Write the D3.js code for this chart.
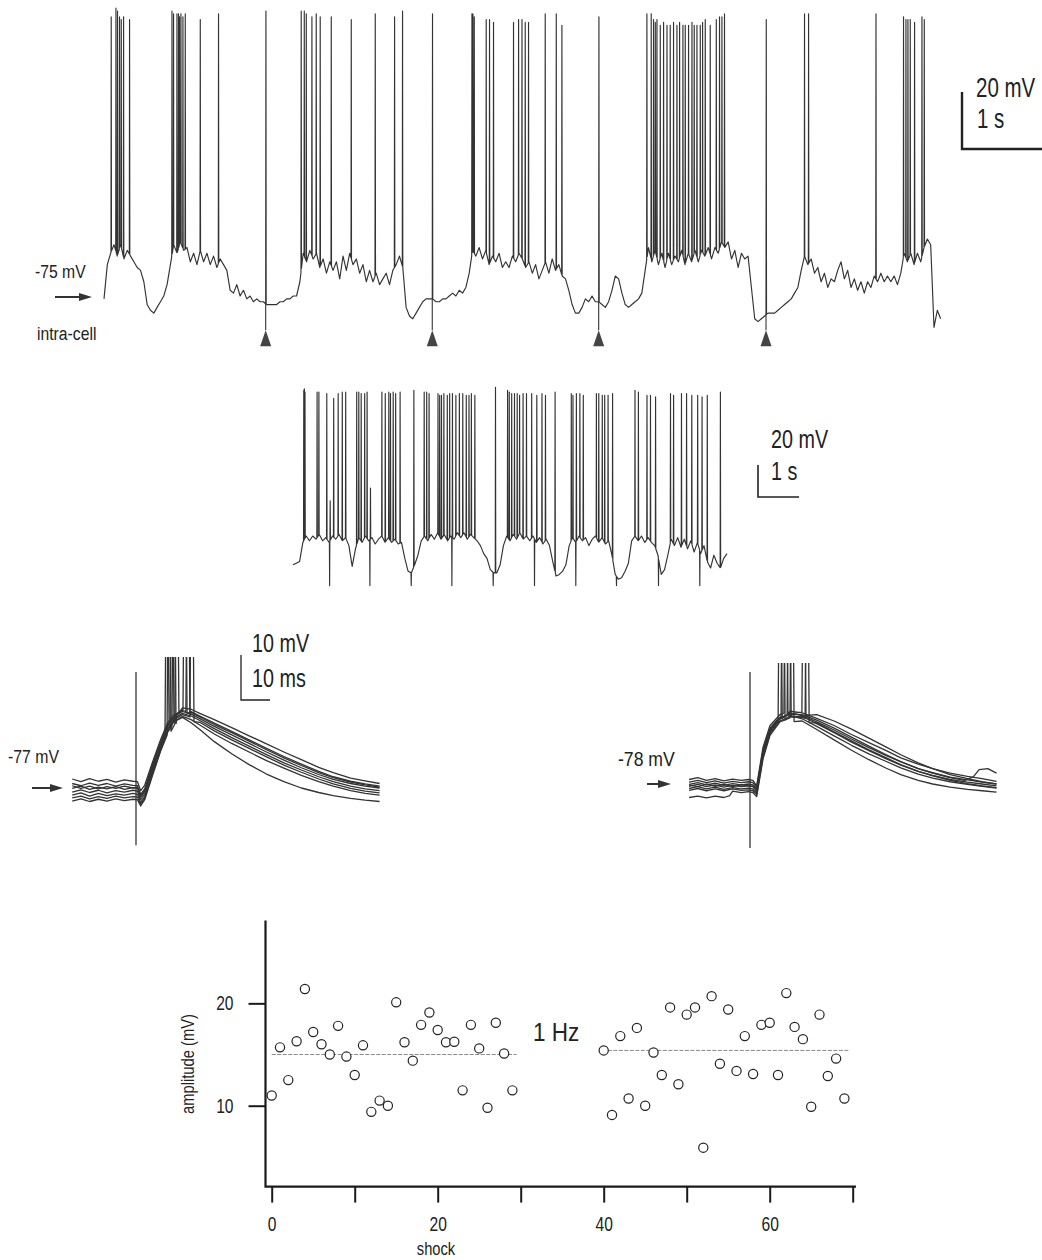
<!DOCTYPE html>
<html><head><meta charset="utf-8">
<script src="https://cdn.jsdelivr.net/npm/d3@7"></script>
<style>
body{margin:0;background:#fff}
svg{display:block}
text{font-family:"Liberation Sans",Arial,sans-serif;fill:#222}
</style>
</head><body>
<svg id="fig" width="1042" height="1260"></svg>
<script>
// ---------------- DATA ----------------
// Top trace (intracellular, 0.5 Hz stimulation): membrane potential sampled every 40 ms (mV)
const topDt = 0.04;
const topVm = [
-76,-64,-60,-57,-61,-57,-62,-59,-61,-63,
-65,-66,-70,-78,-80,-81,-79,-77,-75,-71,
-64,-57,-60,-56,-59,-58,-63,-60,-64,-59,
-63,-60,-64,-61,-65,-62,-64,-66,-73,-74,
-71,-75,-73,-76,-75,-77,-76,-77,-77,-78,
-78,-78,-78,-77,-77,-76,-76,-75,-75,-70,
-60,-63,-59,-62,-60,-65,-62,-67,-63,-66,
-63,-69,-61,-66,-60,-64,-62,-67,-64,-70,
-66,-70,-67,-71,-69,-67,-71,-66,-64,-61,
-65,-79,-82,-83,-81,-79,-77,-76,-76,-76,
-77,-77,-76,-76,-75,-74,-75,-73,-74,-72,
-67,-59,-61,-58,-62,-59,-64,-61,-63,-60,
-65,-63,-65,-61,-63,-60,-62,-65,-63,-67,
-64,-69,-66,-63,-67,-62,-66,-64,-68,-69,
-73,-78,-81,-81,-79,-76,-77,-75,-77,-77,
-78,-79,-77,-73,-68,-69,-74,-78,-79,-78,
-77,-76,-74,-66,-58,-63,-59,-64,-60,-65,
-60,-64,-61,-63,-59,-64,-60,-63,-59,-63,
-59,-61,-58,-62,-58,-60,-56,-58,-56,-62,
-59,-65,-60,-62,-61,-72,-83,-84,-83,-82,
-81,-81,-81,-80,-79,-78,-77,-76,-74,-72,
-66,-61,-64,-62,-67,-65,-70,-67,-72,-69,
-70,-66,-63,-69,-66,-72,-69,-73,-70,-74,
-70,-72,-68,-70,-67,-70,-68,-70,-68,-71,
-67,-60,-63,-60,-64,-60,-63,-58,-55,-57,
-86,-80,-83];
const topSpikeTimes = [
0.084,0.141,0.160,0.184,0.205,0.233,0.305,
0.816,0.835,0.876,0.895,0.907,0.924,0.948,0.976,1.157,1.377,
2.373,2.410,2.434,2.502,2.554,2.602,2.735,2.976,3.265,3.498,3.594,
4.430,4.442,4.458,4.602,4.642,4.690,4.931,4.992,5.033,5.072,5.112,5.313,5.446,5.514,
6.538,6.590,6.618,6.639,6.659,6.699,6.739,6.780,6.819,6.859,6.900,6.932,6.972,7.000,
7.040,7.081,7.108,7.141,7.181,7.209,7.241,7.301,7.374,7.413,7.442,7.473,
8.437,8.486,9.298,
9.630,9.659,9.683,9.711,9.763,9.852,9.880];
const topSpikePeaks = [
23,26,25,23,22,23,22,
25,24,24,24,23,24,23,24,22,24,
25,25,24,23,24,23,23,22,24,23,25,
24,24,23,22,22,21,21,22,22,21,21,24,24,20,
24,24,22,21,22,20,21,20,20,21,20,21,20,20,
20,21,20,20,20,21,22,20,22,23,23,24,
24,24,24,
23,22,22,22,21,23,22];
const topStimTimes = [1.948, 3.955, 5.960, 7.976];
const topStimPeaks = [25, 24, 23, 22];

// Middle trace (1 Hz stimulation): sampled every 80 ms (mV)
const midDt = 0.08;
const midVm = [
-78,-77,-76,-64,-60,-63,-60,-62,-59,-63,
-61,-64,-60,-62,-59,-63,-61,-66,-79,-68,
-61,-64,-60,-63,-61,-65,-62,-60,-64,-61,
-64,-62,-65,-64,-74,-82,-83,-78,-72,-63,
-60,-63,-59,-62,-58,-62,-59,-63,-60,-62,
-58,-61,-58,-62,-59,-61,-63,-66,-71,-74,
-81,-83,-83,-78,-66,-60,-63,-59,-62,-58,
-62,-60,-63,-60,-64,-61,-65,-62,-66,-76,
-85,-84,-82,-78,-66,-61,-64,-60,-63,-61,
-66,-62,-60,-64,-61,-65,-63,-72,-84,-87,
-86,-82,-77,-63,-60,-63,-60,-64,-61,-64,
-66,-72,-84,-81,-72,-62,-66,-61,-67,-62,
-68,-63,-70,-64,-71,-66,-76,-80,-72,-77,
-80,-74,-71];
const midSpikeTimes = [
0.255,0.270,0.285,0.579,0.623,0.815,0.898,0.983,1.092,1.192,1.275,
1.543,1.594,1.652,1.737,1.796,1.878,2.156,2.238,2.324,2.365,2.431,2.491,2.599,
2.934,3.185,3.246,3.304,3.521,3.562,3.606,3.664,3.747,3.805,3.873,3.956,4.041,
4.124,4.209,4.275,4.333,4.418,4.920,5.214,5.255,5.314,5.382,5.448,5.506,5.591,
5.674,5.800,5.925,6.051,6.136,6.370,6.764,6.805,6.888,6.973,7.056,7.375,7.433,
7.518,7.577,7.659,7.769,8.314,8.397,8.606,8.691,8.815,9.178,9.253,9.445,9.569,
9.696,9.839,9.946,10.073,10.392];
const midSpikePeaks = [
31,32,30,30,30,29,-38,26,29,30,30,
30,30,29,29,30,-30,30,29,30,29,30,29,30,
31,30,30,29,29,28,28,29,28,29,29,28,29,
29,28,28,29,28,33,31,30,29,29,29,28,29,
29,29,28,29,28,30,29,28,29,29,28,29,29,
28,28,28,29,31,30,28,28,27,29,28,29,29,
28,28,27,28,30];
const midStimTimes = [0.898,1.878,2.883,3.873,4.878,5.883,6.888,7.878,8.900,9.905];
const midStimLevel = -91;

// Superimposed EPSPs, left (-77 mV): [ms, mV] per sweep
const leftSweeps = [
[[-22,-75.0],[-19,-75.6],[-16,-74.9],[-13,-75.5],[-10,-75.1],[-7,-75.7],[-4,-75.2],[-1,-75.5],[0.5,-75.6],[1.6,-77.6],[3,-76.4],[5.5,-71.6],[8.5,-66.2],[11,-62.4],[14,-60.0],[16,-59.2],[19,-59.5],[22,-60.4],[27,-61.8],[33,-63.6],[39,-65.4],[45,-67.2],[51,-69.0],[57,-70.7],[63,-72.4],[68,-73.6],[74,-74.8],[79,-75.4],[84,-76.0]],
[[-22,-76.0],[-19,-76.5],[-16,-75.9],[-13,-76.4],[-10,-76.0],[-7,-76.6],[-4,-76.1],[-1,-76.4],[0.5,-76.5],[1.6,-78.4],[3,-77.2],[5.5,-72.2],[8.5,-66.8],[11,-63.0],[14,-60.5],[16,-59.6],[19,-60.0],[22,-61.0],[27,-62.6],[33,-64.4],[39,-66.3],[45,-68.2],[51,-70.0],[57,-71.7],[63,-73.3],[68,-74.5],[74,-75.5],[79,-76.1],[84,-76.6]],
[[-22,-77.1],[-19,-76.6],[-16,-77.3],[-13,-76.8],[-10,-77.2],[-7,-76.7],[-4,-77.3],[-1,-76.9],[0.5,-77.0],[1.6,-79.0],[3,-77.8],[5.5,-72.8],[8.5,-67.2],[11,-63.4],[14,-60.8],[16,-60.0],[19,-60.6],[22,-61.6],[27,-63.3],[33,-65.2],[39,-67.1],[45,-69.0],[51,-70.8],[57,-72.5],[63,-74.0],[68,-75.1],[74,-76.0],[79,-76.6],[84,-77.0]],
[[-22,-77.9],[-19,-77.4],[-16,-78.0],[-13,-77.5],[-10,-78.1],[-7,-77.6],[-4,-77.9],[-1,-77.5],[0.5,-77.7],[1.6,-79.6],[3,-78.3],[5.5,-73.3],[8.5,-67.7],[11,-63.8],[14,-61.2],[16,-60.4],[19,-61.0],[22,-62.0],[27,-63.8],[33,-65.8],[39,-67.7],[45,-69.6],[51,-71.4],[57,-73.0],[63,-74.5],[68,-75.6],[74,-76.6],[79,-77.2],[84,-77.6]],
[[-22,-78.6],[-19,-78.1],[-16,-78.8],[-13,-78.2],[-10,-78.7],[-7,-78.3],[-4,-78.6],[-1,-78.2],[0.5,-78.4],[1.6,-80.2],[3,-78.9],[5.5,-73.8],[8.5,-68.1],[11,-64.1],[14,-61.5],[16,-60.7],[19,-61.3],[22,-62.4],[27,-64.3],[33,-66.3],[39,-68.2],[45,-70.1],[51,-71.9],[57,-73.5],[63,-75.0],[68,-76.1],[74,-77.1],[79,-77.7],[84,-78.1]],
[[-22,-79.2],[-19,-78.8],[-16,-79.4],[-13,-78.9],[-10,-79.3],[-7,-78.8],[-4,-79.2],[-1,-78.9],[0.5,-79.0],[1.6,-80.6],[3,-79.3],[5.5,-74.2],[8.5,-68.5],[11,-64.5],[14,-61.9],[16,-61.1],[19,-61.8],[22,-63.0],[27,-65.0],[33,-67.1],[39,-69.0],[45,-70.9],[51,-72.6],[57,-74.2],[63,-75.6],[68,-76.6],[74,-77.6],[79,-78.2],[84,-78.6]],
[[-22,-79.9],[-19,-79.4],[-16,-80.0],[-13,-79.5],[-10,-79.9],[-7,-79.4],[-4,-79.8],[-1,-79.5],[0.5,-79.6],[1.6,-81.0],[3,-79.6],[5.5,-74.6],[8.5,-68.8],[11,-64.8],[14,-62.0],[16,-61.3],[19,-62.5],[22,-64.0],[27,-66.7],[33,-69.4],[39,-71.8],[45,-73.9],[51,-75.6],[57,-77.0],[63,-78.0],[68,-78.7],[74,-79.3],[79,-79.7],[84,-80.0]],
[[-22,-76.5],[-19,-77.1],[-16,-76.6],[-13,-77.2],[-10,-76.7],[-7,-77.1],[-4,-76.6],[-1,-77.0],[0.5,-76.9],[1.6,-78.8],[3,-77.5],[5.5,-72.5],[8.5,-67.0],[11,-63.1],[14,-60.5],[16,-59.8],[19,-60.2],[22,-61.2],[27,-62.9],[33,-64.7],[39,-66.6],[45,-68.5],[51,-70.3],[57,-72.0],[63,-73.6],[68,-74.7],[74,-75.7],[79,-76.3],[84,-76.8]]
];
const leftSpikeTimes = [13.4, 16.2, 10.0, 11.7, 18.6, 12.4, 10.7, 17.2];
const leftArtifact = [-51.2, -89.7];

// Superimposed EPSPs, right (-78 mV)
const rightSweeps = [
[[-21,-77.0],[-18,-76.6],[-15,-77.2],[-12,-76.8],[-9,-77.3],[-6,-76.9],[-3,-77.2],[-0.5,-77.0],[1,-77.2],[2.3,-78.4],[4.5,-69.8],[6.9,-65.0],[10.3,-62.6],[13.8,-61.8],[18,-62.2],[23,-63.4],[29,-65.0],[35,-67.0],[41,-68.8],[47,-70.6],[52,-72.2],[58,-73.6],[63,-74.6],[69,-75.6],[75,-76.3],[80,-76.8],[85,-77.4]],
[[-21,-77.6],[-18,-77.2],[-15,-77.7],[-12,-77.3],[-9,-77.8],[-6,-77.4],[-3,-77.7],[-0.5,-77.5],[1,-77.7],[2.3,-78.8],[4.5,-70.4],[6.9,-65.6],[10.3,-63.0],[13.8,-62.2],[18,-62.8],[23,-64.2],[29,-66.0],[35,-68.0],[41,-69.9],[47,-71.7],[52,-73.1],[58,-74.6],[63,-75.5],[69,-76.5],[75,-77.1],[80,-77.6],[85,-78.0]],
[[-21,-78.1],[-18,-77.7],[-15,-78.2],[-12,-77.8],[-9,-78.3],[-6,-77.9],[-3,-78.2],[-0.5,-78.0],[1,-78.2],[2.3,-79.2],[4.5,-70.8],[6.9,-66.0],[10.3,-63.3],[13.8,-62.5],[18,-63.0],[23,-64.6],[29,-66.6],[35,-68.7],[41,-70.6],[47,-72.4],[52,-73.8],[58,-75.2],[63,-76.1],[69,-77.0],[75,-77.6],[80,-78.0],[85,-78.4]],
[[-21,-78.5],[-18,-78.1],[-15,-78.6],[-12,-78.2],[-9,-78.7],[-6,-78.3],[-3,-78.6],[-0.5,-78.4],[1,-78.6],[2.3,-79.6],[4.5,-71.2],[6.9,-66.3],[10.3,-63.6],[13.8,-62.8],[18,-63.5],[23,-65.2],[29,-67.3],[35,-69.4],[41,-71.3],[47,-73.0],[52,-74.4],[58,-75.8],[63,-76.7],[69,-77.5],[75,-78.1],[80,-78.5],[85,-78.9]],
[[-21,-79.0],[-18,-78.6],[-15,-79.1],[-12,-78.7],[-9,-79.2],[-6,-78.8],[-3,-79.1],[-0.5,-78.9],[1,-79.1],[2.3,-80.0],[4.5,-71.5],[6.9,-66.4],[10.3,-63.5],[13.8,-62.4],[18,-62.0],[23,-62.6],[29,-64.0],[35,-65.8],[41,-67.8],[47,-69.8],[52,-71.5],[58,-73.3],[63,-74.6],[69,-75.9],[75,-76.8],[80,-77.5],[85,-78.0]],
[[-21,-79.4],[-18,-79.0],[-15,-79.5],[-12,-79.1],[-9,-79.5],[-6,-79.1],[-3,-79.4],[-0.5,-79.3],[1,-79.5],[2.3,-80.3],[4.5,-71.9],[6.9,-66.8],[10.3,-64.0],[13.8,-63.0],[18,-63.2],[23,-64.4],[29,-66.4],[35,-68.4],[41,-70.4],[47,-72.2],[52,-73.7],[58,-75.2],[63,-76.2],[69,-77.2],[75,-77.9],[80,-78.4],[85,-78.8]],
[[-21,-81.0],[-18,-80.7],[-15,-81.1],[-12,-80.7],[-9,-81.0],[-7,-80.6],[-6,-79.6],[-3,-79.9],[-0.5,-79.7],[1,-79.9],[2.3,-80.8],[4.5,-72.4],[6.9,-67.2],[10.3,-64.2],[13.8,-63.3],[18,-64.0],[23,-65.9],[29,-68.2],[35,-70.5],[41,-72.6],[47,-74.5],[52,-75.9],[58,-77.2],[63,-78.0],[69,-78.7],[75,-79.2],[80,-79.5],[85,-79.8]],
[[-21,-78.2],[-18,-78.6],[-15,-78.0],[-12,-78.5],[-9,-78.1],[-6,-78.6],[-3,-78.2],[-0.5,-78.4],[1,-78.5],[2.3,-79.4],[4.5,-70.6],[6.9,-65.8],[10.3,-63.2],[13.8,-62.6],[18,-62.6],[23,-63.8],[29,-65.6],[35,-67.6],[41,-69.6],[47,-71.5],[52,-73.0],[58,-74.6],[63,-75.6],[69,-76.6],[74,-77.2],[77,-76.4],[79,-74.8],[82,-74.6],[85,-75.6]]
];
const rightSpikeTimes = [11.7, 9.7, 12.8, 10.7, 17.9, 19.0, 13.8, null];
const rightArtifact = [-53.1, -92.2];

// Amplitude vs shock number (1 Hz)
const shocksA = d3.range(0, 30);
const ampA = [11.0,15.7,12.5,16.3,21.4,17.2,16.0,15.0,17.8,14.8,13.0,15.9,9.4,10.5,10.0,
              20.1,16.2,14.4,17.9,19.1,17.4,16.2,16.25,11.5,17.9,15.6,9.8,18.1,15.1,11.5];
const shocksB = d3.range(40, 70);
const ampB = [15.4,9.1,16.8,10.7,17.6,10.0,15.2,13.0,19.6,12.1,18.9,19.6,5.9,20.7,14.1,
              19.4,13.4,16.8,13.1,17.9,18.1,13.0,21.0,17.7,16.5,9.9,18.9,12.9,14.6,10.7];
const meanLines = [{from:0, to:29.5, value:15.0}, {from:40.5, to:69.5, value:15.4}];
const xTicks = [0,10,20,30,40,50,60,70];
const xTickLabels = [0,20,40,60];
const yTicks = [10,20];

// ---------------- DRAWING ----------------
const svg = d3.select("#fig");
svg.append("rect").attr("width",1042).attr("height",1260).attr("fill","#fff");
const ink = "#333";

function narrow(sel, k){
  sel.each(function(){
    const t = d3.select(this);
    const x = +t.attr("x") || 0;
    t.attr("transform", `translate(${x*(1-k)},0) scale(${k},1)`);
  });
}
function label(x, y, txt, size, k, anchor){
  const t = svg.append("text").attr("x",x).attr("y",y).attr("font-size",size)
    .attr("text-anchor",anchor||"start").text(txt);
  narrow(t,k); return t;
}
function arrow(x0, x1, y){
  svg.append("line").attr("x1",x0).attr("x2",x1-9).attr("y1",y).attr("y2",y)
    .attr("stroke","#333").attr("stroke-width",2);
  svg.append("path").attr("d",`M${x1},${y} L${x1-13},${y-4} L${x1-13},${y+4} Z`).attr("fill","#333");
}
function withEvents(base, events){
  const baseAt = d3.scaleLinear().domain(base.map(d=>d[0])).range(base.map(d=>d[1])).clamp(true);
  const pts = [], wins = [];
  events.forEach(e=>{
    const t1 = e.t + e.w;
    wins.push([e.t, t1]);
    pts.push([e.t, baseAt(e.t)], [e.t + e.w/2, e.peak], [t1, baseAt(t1) + (e.after||0)]);
  });
  base.forEach(p=>{ if(!wins.some(w=>p[0]>w[0] && p[0]<w[1])) pts.push(p); });
  pts.sort((a,b)=>a[0]-b[0]);
  return {pts, baseAt};
}

// ---- Top trace ----
const xTop = d3.scaleLinear().domain([0,10]).range([104, 934]);
const yTop = d3.scaleLinear().domain([-75,25]).range([296, 11]);
{
  const base = topVm.map((v,i)=>[i*topDt, v]);
  const ev = topSpikeTimes.map((t,i)=>({t, w:0.006, peak: topSpikePeaks[i]}))
    .concat(topStimTimes.map((t,i)=>({t, w:0.006, peak: topStimPeaks[i]})));
  const {pts, baseAt} = withEvents(base, ev);
  svg.append("path").attr("d", d3.line().x(d=>xTop(d[0])).y(d=>yTop(d[1]))(pts))
    .attr("fill","none").attr("stroke",ink).attr("stroke-width",1.15).attr("stroke-linejoin","round");
  topStimTimes.forEach(t=>{
    const x = xTop(t);
    svg.append("line").attr("x1",x).attr("x2",x).attr("y1",yTop(baseAt(t))).attr("y2",yTop(-87))
      .attr("stroke",ink).attr("stroke-width",1.1);
    svg.append("path").attr("d",`M${x},${yTop(-87)} L${x-5.5},${yTop(-87)+16} L${x+5.5},${yTop(-87)+16} Z`)
      .attr("fill","#444");
  });
  const bx = 962, by = 149;
  svg.append("path").attr("d",`M${bx},${by-(yTop(-75)-yTop(-55))} V${by} H${bx+(xTop(1)-xTop(0))}`)
    .attr("fill","none").attr("stroke","#222").attr("stroke-width",2.4);
  label(976, 97, "20 mV", 27, 0.76);
  label(977, 128, "1 s", 27, 0.76);
  label(35, 278, "-75 mV", 18.5, 0.85);
  label(37, 340, "intra-cell", 18.5, 0.85);
  arrow(55, 92, yTop(-75)+1);
}

// ---- Middle trace ----
const xMid = d3.scaleLinear().domain([0,10]).range([293, 704]);
const yMid = d3.scaleLinear().domain([-75,25]).range([560, 400]);
{
  const base = midVm.map((v,i)=>[i*midDt, v]);
  const ev = midSpikeTimes.map((t,i)=>({t: t+0.001, w:0.012, peak: midSpikePeaks[i]}))
    .concat(midStimTimes.map(t=>({t: t-0.012, w:0.010, peak: midStimLevel})));
  const {pts} = withEvents(base, ev);
  svg.append("path").attr("d", d3.line().x(d=>xMid(d[0])).y(d=>yMid(d[1]))(pts))
    .attr("fill","none").attr("stroke",ink).attr("stroke-width",1.15).attr("stroke-linejoin","round");
  const bx = 758, by = 497;
  svg.append("path").attr("d",`M${bx},${by-(yMid(-75)-yMid(-55))} V${by} H${bx+(xMid(1)-xMid(0))}`)
    .attr("fill","none").attr("stroke","#222").attr("stroke-width",1.6);
  label(771, 448, "20 mV", 26, 0.76);
  label(771, 480, "1 s", 26, 0.76);
}

// ---- EPSP panels ----
function epspPanel(sweeps, spikes, artifact, xs, ys, clipTop, id){
  svg.append("clipPath").attr("id",id).append("rect")
    .attr("x", xs.range()[0]-80).attr("y", clipTop).attr("width", 400).attr("height", 220);
  const g = svg.append("g").attr("clip-path",`url(#${id})`);
  const line = d3.line().x(d=>xs(d[0])).y(d=>ys(d[1]));
  sweeps.forEach((sw,i)=>{
    const ev = spikes[i]==null ? [] : [{t:spikes[i], w:1.4, peak:0, after:-0.6}];
    const {pts} = withEvents(sw, ev);
    g.append("path").attr("d", line(pts)).attr("fill","none")
      .attr("stroke",ink).attr("stroke-width",1.3).attr("stroke-linejoin","round");
  });
  g.append("line").attr("x1",xs(0)).attr("x2",xs(0)).attr("y1",ys(artifact[0])).attr("y2",ys(artifact[1]))
    .attr("stroke",ink).attr("stroke-width",1.3);
}
const xL = d3.scaleLinear().domain([0,10]).range([136,165]);
const yL = d3.scaleLinear().domain([-77,-67]).range([788,743]);
epspPanel(leftSweeps, leftSpikeTimes, leftArtifact, xL, yL, 657, "clipL");
const xR = d3.scaleLinear().domain([0,10]).range([750,779]);
const yR = d3.scaleLinear().domain([-78,-68]).range([784,739]);
epspPanel(rightSweeps, rightSpikeTimes, rightArtifact, xR, yR, 663, "clipR");
{
  const bx = 241, by = 700;
  svg.append("path").attr("d",`M${bx},${by-(yL(-77)-yL(-67))} V${by} H${bx+(xL(10)-xL(0))}`)
    .attr("fill","none").attr("stroke","#222").attr("stroke-width",1.3);
  label(252, 652, "10 mV", 26, 0.76);
  label(252, 687, "10 ms", 26, 0.76);
  label(8, 763, "-77 mV", 18, 0.88);
  arrow(32, 63, yL(-77));
  label(618, 766, "-78 mV", 21, 0.84);
  arrow(647, 671, yR(-78));
}

// ---- Scatter: amplitude vs shock ----
const xS = d3.scaleLinear().domain([0,70]).range([271.7, 852.7]);
const yS = d3.scaleLinear().domain([2.1,28.1]).range([1186.6, 920.4]);
{
  const axX = 265.5, axY = yS(2.1);
  svg.append("path").attr("d",`M${axX},${yS(28.1)} V${axY} H856`)
    .attr("fill","none").attr("stroke","#1a1a1a").attr("stroke-width",2.2);
  const gx = svg.append("g").attr("transform",`translate(0,${axY})`)
    .call(d3.axisBottom(xS).tickValues(xTicks).tickSize(16).tickPadding(14)
      .tickFormat(d=> xTickLabels.includes(d) ? d : ""));
  gx.select(".domain").remove();
  gx.selectAll("line").attr("stroke","#1a1a1a").attr("stroke-width",2);
  gx.selectAll("text").attr("font-size",20).attr("fill","#222")
    .attr("font-family",'"Liberation Sans",Arial,sans-serif').call(narrow, 0.78);
  const gy = svg.append("g").attr("transform",`translate(${axX},0)`)
    .call(d3.axisLeft(yS).tickValues(yTicks).tickSize(17).tickPadding(15));
  gy.select(".domain").remove();
  gy.selectAll("line").attr("stroke","#1a1a1a").attr("stroke-width",2);
  gy.selectAll("text").attr("font-size",20).attr("fill","#222")
    .attr("font-family",'"Liberation Sans",Arial,sans-serif').call(narrow, 0.78);

  meanLines.forEach(m=>{
    svg.append("line").attr("x1",xS(m.from)).attr("x2",xS(m.to)).attr("y1",yS(m.value)).attr("y2",yS(m.value))
      .attr("stroke","#8a8a8a").attr("stroke-width",1).attr("stroke-dasharray","4,1.5");
  });
  const pts = shocksA.map((s,i)=>[s, ampA[i]]).concat(shocksB.map((s,i)=>[s, ampB[i]]));
  svg.append("g").selectAll("circle").data(pts).join("circle")
    .attr("cx",d=>xS(d[0])).attr("cy",d=>yS(d[1])).attr("r",4.6)
    .attr("fill","#fff").attr("stroke","#222").attr("stroke-width",1.2);

  label(533, 1041, "1 Hz", 25, 0.9);
  label(436, 1255, "shock", 17.5, 0.84, "middle");
  svg.append("text").attr("font-size",18).attr("text-anchor","middle")
    .attr("transform","translate(194,1064) rotate(-90) scale(0.82,1)").text("amplitude (mV)");
}
</script>
</body></html>
